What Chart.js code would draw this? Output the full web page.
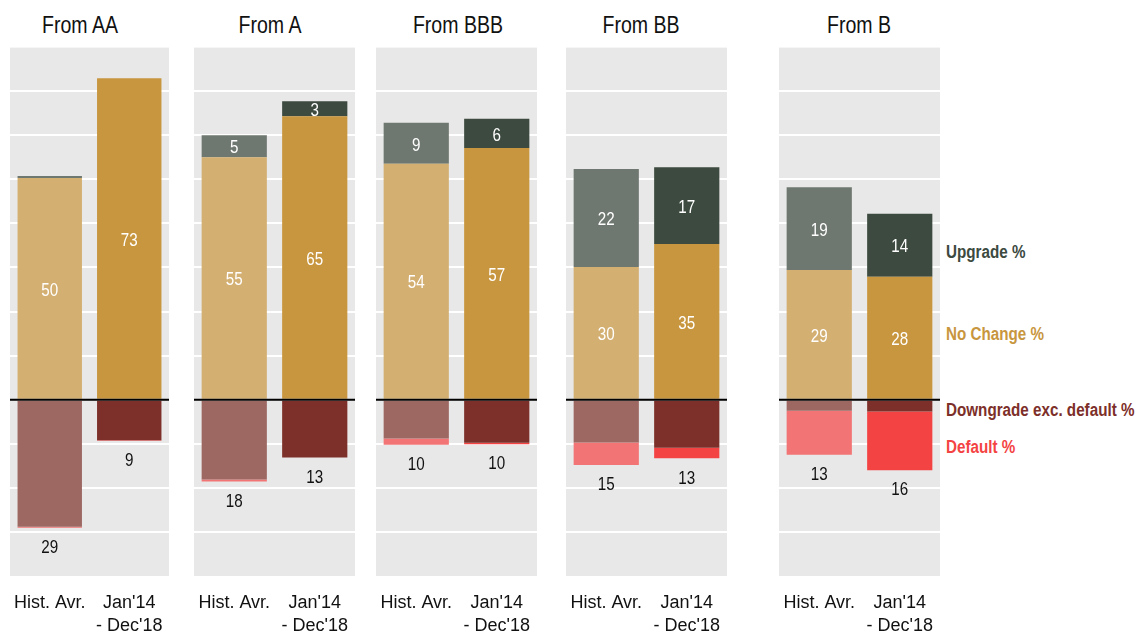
<!DOCTYPE html>
<html><head><meta charset="utf-8">
<script src="https://cdn.jsdelivr.net/npm/chart.js@4.4.1/dist/chart.umd.min.js"></script>
<style>
html,body{margin:0;padding:0;background:#fff;width:1138px;height:634px;overflow:hidden;position:relative;
  font-family:'Liberation Sans',Arial,sans-serif}
.panel{position:absolute;top:0;height:634px}
.title{position:absolute;top:25px;font-size:23px;color:#111;white-space:nowrap;transform:translate(-50%,-50%) scaleX(0.85)}
.leg{position:absolute;left:946px;font-weight:bold;font-size:18px;white-space:nowrap;transform-origin:0 50%;transform:translateY(-50%) scaleX(0.845)}
</style></head><body>
<script>
// ---------------- data ----------------
const panelTitles = ["From AA", "From A", "From BBB", "From BB", "From B"];
const periods = [["Hist. Avr."], ["Jan'14", "- Dec'18"]];
const seriesNames = ["No Change %", "Upgrade %", "Downgrade exc. default %", "Default %"];

// bar values (percent), one entry per panel
const noChangeHist  = [50.3, 55.0, 53.5, 30.1, 29.4];
const noChangeJan   = [72.9, 64.3, 57.1, 35.3, 27.9];
const upgradeHist   = [0.45, 5.0, 9.3, 22.2, 18.8];
const upgradeJan    = [0, 3.4, 6.6, 17.4, 14.3];
const downgradeHist = [-28.8, -18.1, -8.8, -9.7, -2.5];
const downgradeJan  = [-9.2, -13.1, -9.8, -10.9, -2.7];
const defaultHist   = [-0.25, -0.45, -1.4, -5.1, -10.0];
const defaultJan    = [-0.1, 0, -0.3, -2.4, -13.3];

// printed labels
const upgradeLabelHist  = [null, 5, 9, 22, 19];
const upgradeLabelJan   = [null, 3, 6, 17, 14];
const noChangeLabelHist = [50, 55, 54, 30, 29];
const noChangeLabelJan  = [73, 65, 57, 35, 28];
const downLabelHist     = [29, 18, 10, 15, 13];
const downLabelJan      = [9, 13, 10, 13, 16];

// y axis
const yMin = -40, yMax = 80, yStep = 10;

// ---------------- layout / style ----------------
const FONT = "'Liberation Sans',Arial,sans-serif";
const panelLeft  = [10, 194, 376, 566, 779];
const panelRight = [169, 355, 537, 727, 940];
const titleCenter = [80, 270, 458, 641, 859];
const colors = {
  noChange:  ['#d3af72', '#c8963e'],
  upgrade:   ['#6f7870', '#3c4a3f'],
  downgrade: ['#9d6862', '#7d2f29'],
  dflt:      ['#f27474', '#f44343']
};
const legendItems = [
  {text: seriesNames[1], color: '#3c4a3f', y: 252},
  {text: seriesNames[0], color: '#c8963e', y: 334},
  {text: seriesNames[2], color: '#7d2f29', y: 410},
  {text: seriesNames[3], color: '#f44343', y: 447}
];

const bgPlugin = {
  id: 'panelBg',
  beforeDraw(chart) {
    const {ctx, chartArea: a} = chart;
    ctx.save();
    ctx.fillStyle = '#e8e8e8';
    ctx.fillRect(a.left, a.top, a.right - a.left, a.bottom - a.top);
    ctx.restore();
  }
};

function drawNarrow(ctx, text, x, y) {
  ctx.save();
  ctx.translate(x, y);
  ctx.scale(0.8, 1);
  ctx.fillText(text, 0, 0);
  ctx.restore();
}

function labelPlugin(i) {
  return {
    id: 'labels' + i,
    afterDatasetsDraw(chart) {
      const ctx = chart.ctx, a = chart.chartArea, y = chart.scales.y;
      const y0 = y.getPixelForValue(0);
      ctx.save();
      ctx.strokeStyle = '#000';
      ctx.lineWidth = 2;
      ctx.beginPath(); ctx.moveTo(a.left, y0); ctx.lineTo(a.right, y0); ctx.stroke();
      ctx.font = '19px ' + FONT;
      ctx.textAlign = 'center';
      ctx.textBaseline = 'middle';
      const posLabels = [
        [noChangeLabelHist[i], noChangeLabelJan[i]],
        [upgradeLabelHist[i], upgradeLabelJan[i]]
      ];
      for (let d = 0; d < 2; d++) {
        const meta = chart.getDatasetMeta(d);
        meta.data.forEach((bar, k) => {
          const v = posLabels[d][k];
          if (v === null || v === undefined) return;
          ctx.fillStyle = '#ffffff';
          drawNarrow(ctx, String(v), bar.x, (bar.y + bar.base) / 2 + 2);
        });
      }
      const negLabels = [downLabelHist[i], downLabelJan[i]];
      const metaDef = chart.getDatasetMeta(3), metaDown = chart.getDatasetMeta(2);
      metaDef.data.forEach((bar, k) => {
        const bottom = Math.max(bar.y, metaDown.data[k].y);
        ctx.fillStyle = '#111';
        drawNarrow(ctx, String(negLabels[k]), bar.x, bottom + 20);
      });
      ctx.restore();
    }
  };
}

panelTitles.forEach((t, i) => {
  const d = document.createElement('div');
  d.className = 'title';
  d.style.left = titleCenter[i] + 'px';
  d.textContent = t;
  document.body.appendChild(d);
});
legendItems.forEach(it => {
  const d = document.createElement('div');
  d.className = 'leg';
  d.style.top = it.y + 'px';
  d.style.color = it.color;
  d.textContent = it.text;
  document.body.appendChild(d);
});

panelTitles.forEach((t, i) => {
  const box = document.createElement('div');
  box.className = 'panel';
  box.style.left = panelLeft[i] + 'px';
  box.style.width = (panelRight[i] - panelLeft[i]) + 'px';
  const cv = document.createElement('canvas');
  box.appendChild(cv);
  document.body.appendChild(box);

  new Chart(cv, {
    type: 'bar',
    data: {
      labels: periods,
      datasets: [
        {label: seriesNames[0], data: [noChangeHist[i], noChangeJan[i]], backgroundColor: colors.noChange},
        {label: seriesNames[1], data: [upgradeHist[i], upgradeJan[i]], backgroundColor: colors.upgrade},
        {label: seriesNames[2], data: [downgradeHist[i], downgradeJan[i]], backgroundColor: colors.downgrade},
        {label: seriesNames[3], data: [defaultHist[i], defaultJan[i]], backgroundColor: colors.dflt}
      ]
    },
    options: {
      responsive: true,
      maintainAspectRatio: false,
      animation: false,
      devicePixelRatio: 1,
      layout: {padding: {top: 47, bottom: 0, left: 0, right: 0}},
      datasets: {bar: {barPercentage: 0.81, categoryPercentage: 1.0, borderWidth: 0}},
      plugins: {legend: {display: false}, tooltip: {enabled: false}, title: {display: false}},
      scales: {
        x: {
          stacked: true,
          grid: {display: false, drawTicks: false},
          border: {display: false},
          ticks: {color: '#111', padding: 16, font: {family: FONT, size: 18, lineHeight: 1.25}, maxRotation: 0, autoSkip: false},
          afterFit(scale) { scale.height = 58; scale.paddingLeft = 0; scale.paddingRight = 0; }
        },
        y: {
          stacked: true,
          min: yMin, max: yMax,
          border: {display: false},
          ticks: {display: false, stepSize: yStep},
          afterFit(scale) { scale.width = 0; scale.paddingTop = 0; scale.paddingBottom = 0; },
          grid: {
            drawTicks: false,
            lineWidth: 2,
            color(c) {
              const v = c.tick && c.tick.value;
              if (v === 0 || v === yMin) return 'rgba(0,0,0,0)';
              if (v === yMax) return 'rgba(255,255,255,0.6)';
              return '#ffffff';
            }
          }
        }
      }
    },
    plugins: [bgPlugin, labelPlugin(i)]
  });
});
</script>
</body></html>
